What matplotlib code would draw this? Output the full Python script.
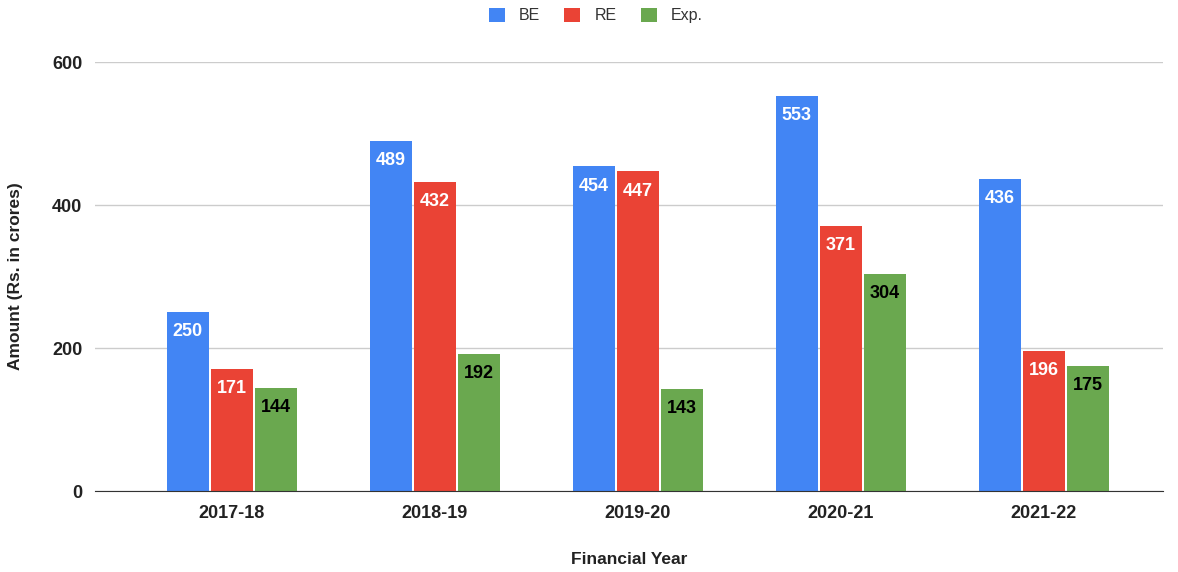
import numpy as np
import matplotlib.pyplot as plt

plt.rcParams['font.family'] = ['Liberation Sans', 'DejaVu Sans']

years = ["2017-18", "2018-19", "2019-20", "2020-21", "2021-22"]
be = [250, 489, 454, 553, 436]
re_ = [171, 432, 447, 371, 196]
exp = [144, 192, 143, 304, 175]

series = [("BE", be, "#4285f4", "white"),
          ("RE", re_, "#ea4335", "white"),
          ("Exp.", exp, "#6aa84f", "black")]

fig = plt.figure(figsize=(11.78, 5.72), dpi=100)
ax = fig.add_axes([0.0806, 0.1416, 0.9064, 0.75])

x = np.arange(len(years))
width = 0.207
step = 0.217

for i, (name, vals, color, tcolor) in enumerate(series):
    pos = x + (i - 1) * step
    bars = ax.bar(pos, vals, width, color=color, label=name, zorder=3)
    for b, v in zip(bars, vals):
        ax.annotate(str(v), (b.get_x() + b.get_width() / 2, v),
                    xytext=(0, -8), textcoords="offset points",
                    ha="center", va="top", color=tcolor,
                    fontsize=13, fontweight="bold", zorder=4)

ax.set_ylim(0, 600)
ax.set_xlim(-0.675, 4.586)
ax.set_yticks([0, 200, 400, 600])
ax.set_xticks(x)
ax.set_xticklabels(years, fontsize=13, fontweight="bold", color="#222222")
for lab in ax.get_yticklabels():
    lab.set_fontsize(13)
    lab.set_fontweight("bold")
    lab.set_color("#222222")
ax.tick_params(length=0, pad=10)
ax.tick_params(axis="y", pad=9)
ax.grid(axis="y", color="#cccccc", linewidth=1, zorder=0)
for s in ["top", "right", "left"]:
    ax.spines[s].set_visible(False)
ax.spines["bottom"].set_color("#333333")
ax.spines["bottom"].set_zorder(5)

ax.set_ylabel("Amount (Rs. in crores)", fontsize=12.5, fontweight="bold",
              color="#222222", labelpad=21)
ax.set_xlabel("Financial Year", fontsize=12.5, fontweight="bold",
              color="#222222", labelpad=22)

fig.legend(loc="upper center", bbox_to_anchor=(0.506, 1.012), ncol=3,
           frameon=False, fontsize=11.5, handlelength=1.0, handleheight=1.0,
           columnspacing=1.5, handletextpad=0.9, labelcolor="#333333")

fig.savefig("out.png", dpi=100)
